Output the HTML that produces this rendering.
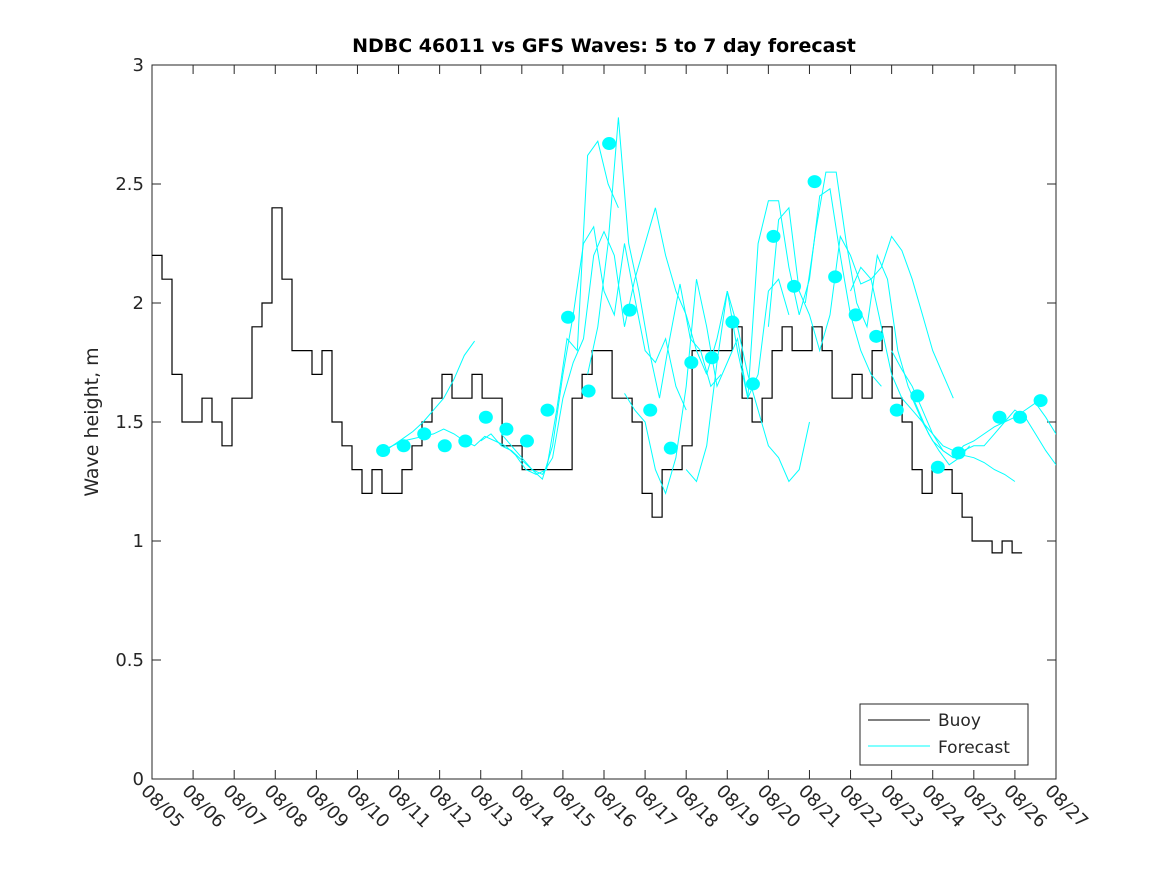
<!DOCTYPE html>
<html><head><meta charset="utf-8"><style>
body{margin:0;background:#fff;}
svg text{font-family:"DejaVu Sans","Liberation Sans",sans-serif;}
</style></head><body>
<svg id="chart" width="1167" height="875" xmlns="http://www.w3.org/2000/svg">
<defs><clipPath id="plotclip"><rect x="152" y="65" width="904" height="714"/></clipPath></defs>
<rect width="1167" height="875" fill="#fff"/>
<text x="604" y="52" text-anchor="middle" font-size="19" font-weight="bold">NDBC 46011 vs GFS Waves: 5 to 7 day forecast</text>
<text transform="translate(98,422) rotate(-90)" text-anchor="middle" font-size="19" fill="#262626">Wave height, m</text>
<g id="axes"></g>
<g id="marks" clip-path="url(#plotclip)"></g>
<g>
<rect x="860" y="704" width="168" height="61" fill="#fff" stroke="#262626" stroke-width="1"/>
<line x1="868" y1="720" x2="930" y2="720" stroke="#000"/>
<text x="938" y="726" font-size="17" fill="#262626">Buoy</text>
<line x1="868" y1="746" x2="930" y2="746" stroke="#00ffff"/>
<text x="938" y="753" font-size="17" fill="#262626">Forecast</text>
</g>
</svg>
<script>
const xTickLabels=["08/05","08/06","08/07","08/08","08/09","08/10","08/11","08/12","08/13","08/14","08/15","08/16","08/17","08/18","08/19","08/20","08/21","08/22","08/23","08/24","08/25","08/26","08/27"];
const yTicks=[0,0.5,1,1.5,2,2.5,3];
const yTickLabels=["0","0.5","1","1.5","2","2.5","3"];
const buoyStep=0.2434;
const buoy=[2.2,2.1,1.7,1.5,1.5,1.6,1.5,1.4,1.6,1.6,1.9,2.0,2.4,2.1,1.8,1.8,1.7,1.8,1.5,1.4,1.3,1.2,1.3,1.2,1.2,1.3,1.4,1.5,1.6,1.7,1.6,1.6,1.7,1.6,1.6,1.4,1.4,1.3,1.3,1.3,1.3,1.3,1.6,1.7,1.8,1.8,1.6,1.6,1.5,1.2,1.1,1.3,1.3,1.4,1.8,1.8,1.8,1.8,1.9,1.6,1.5,1.6,1.8,1.9,1.8,1.8,1.9,1.8,1.6,1.6,1.7,1.6,1.8,1.9,1.6,1.5,1.3,1.2,1.3,1.3,1.2,1.1,1.0,1.0,0.95,1.0,0.95,0.95];
const dotStart=5.625, dotStep=0.5;
const dots=[1.38,1.40,1.45,1.40,1.42,1.52,1.47,1.42,1.55,1.94,1.63,2.67,1.97,1.55,1.39,1.75,1.77,1.92,1.66,2.28,2.07,2.51,2.11,1.95,1.86,1.55,1.61,1.31,1.37,null,1.52,1.52,1.59];
const fcStep=0.25;
const fcStarts=[5.6,5.6,8.0,8.5,10.6,11.5,13.0,13.5,15.0,15.9,17.0,18.0,18.5];
const fcA=[1.38,1.40,1.43,1.46,1.50,1.55,1.60,1.68,1.78,1.84];
const fcB=[1.37,1.40,1.42,1.43,1.44,1.45,1.47,1.45,1.42,1.40,1.44,1.42,1.40,1.36,1.30,1.28,1.30,1.55,1.85,1.80,2.62,2.68,2.50,2.40];
const fcC=[1.42,1.45,1.40,1.38,1.34,1.30,1.26,1.40,1.70,1.95,2.25,2.32,2.05,1.95,2.25,2.02,1.80,1.75,1.85,1.65,1.55];
const fcD=[1.45,1.40,1.35,1.30,1.28,1.35,1.60,1.75,1.85,2.20,2.30,2.20,1.90,2.10,2.25,2.40,2.20,2.05,1.95,1.80,1.70];
const fcE=[1.70,1.90,2.25,2.78,2.25,2.05,1.80,1.60,1.85,2.08,1.85,1.80,1.65,1.70];
const fcF=[1.62,1.55,1.50,1.30,1.20,1.35,1.65,2.10,1.90,1.65,1.75,1.85,1.60,1.70,2.05,2.10,1.95];
const fcG=[1.30,1.25,1.40,1.75,2.05,1.90,1.70,1.55,1.40,1.35,1.25,1.30,1.50];
const fcH=[1.70,1.85,2.05,1.80,1.60,2.25,2.43,2.43,2.15,1.95,2.10,2.45,2.48,2.20,1.95,1.80,1.70,1.65];
const fcI=[1.90,2.35,2.40,2.05,1.95,1.80,1.95,2.28,2.20,2.08,2.10,2.15,2.28,2.22,2.10,1.95,1.80,1.70,1.60];
const fcJ=[2.00,2.30,2.55,2.55,2.25,2.00,1.90,2.20,2.10,1.80,1.65,1.55,1.45,1.38,1.32,1.35,1.40];
const fcK=[2.05,2.15,2.10,1.90,1.70,1.60,1.55,1.50,1.45,1.40,1.38,1.36,1.35,1.33,1.30,1.28,1.25];
const fcL=[1.80,1.72,1.65,1.55,1.45,1.38,1.35,1.40,1.42,1.45,1.48,1.50,1.52,1.55,1.58,1.52,1.45,1.40,1.38];
const fcM=[1.60,1.50,1.42,1.38,1.35,1.38,1.40,1.40,1.45,1.50,1.55,1.52,1.45,1.38,1.32,1.28,1.25,1.22];
const fcSeries=[fcA,fcB,fcC,fcD,fcE,fcF,fcG,fcH,fcI,fcJ,fcK,fcL,fcM];

const X0=152,X1=1056,Y0=779,Y1=65;
const xs=d=>X0+(X1-X0)*d/22;
const ys=v=>Y0-(Y0-Y1)*v/3;
const NS="http://www.w3.org/2000/svg";
const axes=document.getElementById('axes'), marks=document.getElementById('marks');
function mk(tag,attrs,parent){const e=document.createElementNS(NS,tag);for(const k in attrs)e.setAttribute(k,attrs[k]);parent.appendChild(e);return e;}

const box=mk('rect',{x:X0,y:Y1,width:X1-X0,height:Y0-Y1,fill:'none',stroke:'#262626','stroke-width':1},axes);


xTickLabels.forEach((lab,i)=>{
  const x=xs(i);
  mk('line',{x1:x,y1:Y0,x2:x,y2:Y0-9,stroke:'#262626'},axes);
  mk('line',{x1:x,y1:Y1,x2:x,y2:Y1+9,stroke:'#262626'},axes);
  const t=mk('text',{transform:`translate(${x-12},${Y0+13}) rotate(45)`,'font-size':18,fill:'#262626'},axes);
  t.textContent=lab;
  
  
});
yTicks.forEach((v,i)=>{
  const y=ys(v);
  mk('line',{x1:X0,y1:y,x2:X0+9,y2:y,stroke:'#262626'},axes);
  mk('line',{x1:X1,y1:y,x2:X1-9,y2:y,stroke:'#262626'},axes);
  const t=mk('text',{x:X0-8,y:y+6,'text-anchor':'end','font-size':18,fill:'#262626'},axes);
  t.textContent=yTickLabels[i];
  
  
});
let d='';
buoy.forEach((v,i)=>{const x=xs(i*buoyStep),y=ys(v);d+=(i?`H${x.toFixed(1)}V${y.toFixed(1)}`:`M${x.toFixed(1)},${y.toFixed(1)}`);});
const bl=mk('path',{d:d,fill:'none',stroke:'#000','stroke-width':1.2},marks);


fcSeries.forEach((s,k)=>{
  const p=s.map((v,i)=>`${i?'L':'M'}${xs(fcStarts[k]+i*fcStep).toFixed(1)},${ys(v).toFixed(1)}`).join('');
  const l=mk('path',{d:p,fill:'none',stroke:'#00ffff','stroke-width':1},marks);
  
  
});
dots.forEach((v,i)=>{
  if(v===null)return;
  const c=mk('ellipse',{cx:xs(dotStart+i*dotStep),cy:ys(v),rx:7,ry:6.5,fill:'#00ffff'},marks);
  
  
});
</script>
</body></html>
